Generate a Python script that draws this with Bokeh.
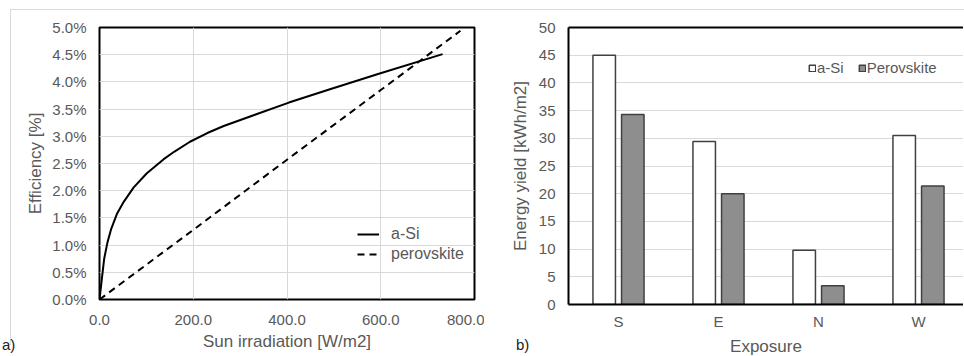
from bokeh.plotting import figure
from bokeh.models import (FixedTicker, PrintfTickFormatter, Legend, LegendItem,
                          LinearAxis, Range1d, ColumnDataSource, Div)
from bokeh.layouts import row, column
from bokeh.transform import dodge
from bokeh.embed import file_html
from bokeh.resources import INLINE

# ---------------- data ----------------
irr_asi = [0, 5, 10, 17, 25, 37, 52, 73, 101, 137, 160, 193, 230, 265, 336, 404, 490, 596, 732]
eff_asi = [0.0, 0.38, 0.75, 1.05, 1.30, 1.57, 1.80, 2.06, 2.32, 2.58, 2.72, 2.90, 3.06, 3.19, 3.41, 3.62, 3.86, 4.15, 4.51]
irr_pero = [0, 200, 400, 600, 770]
eff_pero = [0.0, 1.28, 2.57, 3.85, 4.94]

irr_ticks = [0, 200, 400, 600, 800]
eff_ticks = [0.0, 0.5, 1.0, 1.5, 2.0, 2.5, 3.0, 3.5, 4.0, 4.5, 5.0]

exposures = ["S", "E", "N", "W"]
yield_asi = [45.0, 29.4, 9.8, 30.5]
yield_pero = [34.3, 20.0, 3.4, 21.4]
yield_ticks = [0, 5, 10, 15, 20, 25, 30, 35, 40, 45, 50]

FONT = "Liberation Sans"
GRAY = "#595959"
GRID = "#d9d9d9"
BORDER = "#d9d9d9"


def style_axis(ax):
    ax.major_tick_line_color = None
    ax.minor_tick_line_color = None
    ax.major_tick_out = 0
    ax.major_tick_in = 0
    ax.major_label_text_font = FONT
    ax.major_label_text_font_size = "15px"
    ax.major_label_text_color = GRAY
    ax.axis_label_text_font = FONT
    ax.axis_label_text_font_size = "17px"
    ax.axis_label_text_font_style = "normal"
    ax.axis_label_text_color = GRAY


# ---------------- left chart ----------------
p1 = figure(frame_width=375, frame_height=272,
            min_border_left=99, min_border_right=10, min_border_top=27, min_border_bottom=56,
            x_range=Range1d(0, 800), y_range=Range1d(0, 5),
            output_backend="svg", toolbar_location=None)
p1.outline_line_color = "black"
p1.outline_line_width = 2
p1.xgrid.ticker = FixedTicker(ticks=irr_ticks)
p1.ygrid.ticker = FixedTicker(ticks=eff_ticks)
p1.grid.grid_line_color = GRID
p1.grid.grid_line_width = 1
p1.xaxis.ticker = FixedTicker(ticks=irr_ticks)
p1.yaxis.ticker = FixedTicker(ticks=eff_ticks)
p1.xaxis.formatter = PrintfTickFormatter(format="%.1f")
p1.yaxis.formatter = PrintfTickFormatter(format="%.1f%%")
p1.xaxis.axis_label = "Sun irradiation [W/m2]"
p1.yaxis.axis_label = "Efficiency [%]"
for ax in (p1.xaxis[0], p1.yaxis[0]):
    style_axis(ax)
    ax.axis_line_color = None
p1.yaxis.major_label_standoff = 13
p1.yaxis.axis_label_standoff = 4
p1.xaxis.major_label_standoff = 15
p1.xaxis.axis_label_standoff = 4

r_asi = p1.line(irr_asi, eff_asi, line_color="black", line_width=2)
r_pero = p1.line(irr_pero, eff_pero, line_color="black", line_width=2, line_dash="7 5")

leg1 = Legend(items=[LegendItem(label="a-Si", renderers=[r_asi]),
                     LegendItem(label="perovskite", renderers=[r_pero])],
              location=(258, 35), orientation="vertical",
              glyph_width=22, glyph_height=20, label_height=20, label_standoff=12,
              spacing=0, padding=0, margin=0,
              border_line_color=None, background_fill_alpha=0,
              label_text_font=FONT, label_text_font_size="16px", label_text_color=GRAY)
p1.add_layout(leg1)

# ---------------- right chart ----------------
pos = [i + 0.5 for i in range(len(exposures))]
src = ColumnDataSource(dict(pos=pos, asi=yield_asi, pero=yield_pero))

p2 = figure(frame_width=395, frame_height=277,
            min_border_left=84, min_border_right=0, min_border_top=26, min_border_bottom=52,
            x_range=Range1d(0, 3.95), y_range=Range1d(0, 50),
            output_backend="svg", toolbar_location=None)
p2.outline_line_color = None
p2.xgrid.grid_line_color = None
p2.ygrid.ticker = FixedTicker(ticks=yield_ticks)
p2.ygrid.grid_line_color = GRID
p2.yaxis.ticker = FixedTicker(ticks=yield_ticks)
p2.xaxis.ticker = FixedTicker(ticks=pos)
p2.xaxis.major_label_overrides = {p: e for p, e in zip(pos, exposures)}
p2.xaxis.axis_label = "Exposure"
p2.yaxis.axis_label = "Energy yield [kWh/m2]"
for ax in (p2.xaxis[0], p2.yaxis[0]):
    style_axis(ax)
    ax.axis_line_color = "black"
    ax.axis_line_width = 2
p2.yaxis.major_label_standoff = 13
p2.yaxis.axis_label_standoff = 6
p2.xaxis.major_label_standoff = 8
p2.xaxis.axis_label_standoff = 4

top_ax = LinearAxis(ticker=FixedTicker(ticks=[]), axis_line_color="black", axis_line_width=2,
                    major_tick_line_color=None, minor_tick_line_color=None,
                    major_label_text_font_size="0px")
p2.add_layout(top_ax, "above")

b_asi = p2.vbar(x=dodge("pos", -0.143, range=p2.x_range), top="asi", width=0.225, source=src,
                fill_color="white", line_color="#404040", line_width=1.5)
b_pero = p2.vbar(x=dodge("pos", 0.143, range=p2.x_range), top="pero", width=0.225, source=src,
                 fill_color="#8e8e8e", line_color="#404040", line_width=1.5)

leg2 = Legend(items=[LegendItem(label="a-Si", renderers=[b_asi]),
                     LegendItem(label="Perovskite", renderers=[b_pero])],
              location=(240, 228), orientation="horizontal",
              glyph_width=8, glyph_height=8, label_height=8, label_standoff=1,
              spacing=14, padding=0, margin=0,
              border_line_color=None, background_fill_alpha=0,
              label_text_font=FONT, label_text_font_size="15px", label_text_color=GRAY)
p2.add_layout(leg2)

# ---------------- panel letters and chart-area border (HTML overlays) ----------------
txt_style = {"position": "absolute", "font-family": FONT, "font-size": "15px",
             "color": "#222222", "line-height": "18px", "pointer-events": "none"}
div_a = Div(text="a)", width=20, height=18, margin=0,
            styles=dict(txt_style, left="2px", top="336px"))
div_b = Div(text="b)", width=20, height=18, margin=0,
            styles=dict(txt_style, left="516px", top="336px"))
div_border = Div(text="", width=954, height=336, margin=0,
                 styles={"position": "absolute", "left": "10px", "top": "9px",
                         "border-top": "1px solid " + BORDER, "border-left": "1px solid " + BORDER,
                         "box-sizing": "border-box", "pointer-events": "none"})

layout = column(row(p1, p2), div_border, div_a, div_b)
open("out.html", "w").write(file_html(layout, INLINE))
